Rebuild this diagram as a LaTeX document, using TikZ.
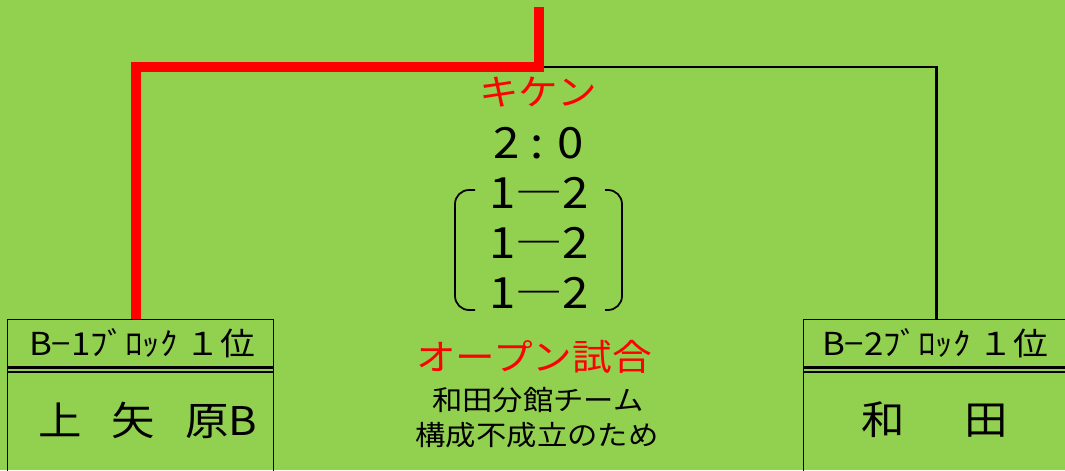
\documentclass[tikz,border=0pt]{standalone}
\usepackage{fontspec}
\setmainfont[FakeStretch=1.1]{Noto Sans CJK JP}
\usetikzlibrary{calc}
\definecolor{xlGreen}{RGB}{146,208,80}
\definecolor{xlRed}{RGB}{255,0,0}
\tikzset{
    box/.style={draw,line width=0.6pt,inner sep=0pt,anchor=north west,minimum width=5.32cm,minimum height=3.06cm},
    dbl/.style={line width=1.7pt},
    win/.style={line width=6.2pt,draw=xlRed},
    wire/.style={line width=1.3pt,draw=black},
    brk/.style={line width=1pt,rounded corners=8pt},
    score/.style={inner sep=0pt,font=\fontsize{24.5}{28}\selectfont},
    flag/.style={inner sep=0pt,text=xlRed,font=\fontsize{20.5}{24}\selectfont},
    note/.style={inner sep=0pt,font=\fontsize{15.7}{18}\selectfont},
    head/.style={inner sep=0pt,font=\fontsize{18}{20}\selectfont},
    team/.style={inner sep=0pt,font=\fontsize{22.5}{26}\selectfont}
}
\begin{document}
\begin{tikzpicture}[x=0.02cm,y=-0.02cm]
  \fill[xlGreen] (0,0) rectangle (1065,470);
  \useasboundingbox (0,0) rectangle (1065,470);

  \node[box] (boxA) at (7,319)   {};
  \node[box] (boxB) at (803,319) {};
  \draw[dbl] ($(boxA.north west)+(0,48.5)$) -- ($(boxA.north east)+(0,48.5)$);
  \draw[dbl] ($(boxA.north west)+(0,53)$)   -- ($(boxA.north east)+(0,53)$);
  \draw[dbl] ($(boxB.north west)+(0,48.5)$) -- ($(boxB.north east)+(0,48.5)$);
  \draw[dbl] ($(boxB.north west)+(0,53)$)   -- ($(boxB.north east)+(0,53)$);

  \node[head] (hdA) at (142,343.5) {B−1ﾌﾞﾛｯｸ １位};
  \node[team] (tmA) at (148,420)   {上\hspace{0.75em}矢\hspace{0.75em}原B};
  \node[head] (hdB) at (935,343.5) {B−2ﾌﾞﾛｯｸ １位};
  \node[team] (tmB) at (935,420)   {和\hspace{1.5em}田};

  \coordinate (top)  at (539,7);
  \coordinate (fork) at (539,67);
  \coordinate (inA)  at (136,319);
  \draw[wire] (fork) -| (boxB.north);
  \draw[win] (inA) |- (fork) -- (top);

  \node[flag]  (kiken) at (538,92)  {キケン};
  \node[score] (s0)    at (539,143) {2 : 0};
  \node[score] (s1)    at (539,193) {1―2};
  \node[score] (s2)    at (539,243) {1―2};
  \node[score] (s3)    at (539,293) {1―2};
  \draw[brk] (475,190) -- (455,190) -- (455,310) -- (475,310);
  \draw[brk] (605,190) -- (622,190) -- (622,310) -- (605,310);

  \node[flag] (open) at (534,357) {オープン試合};
  \node[note] (why1) at (538,400) {和田分館チーム};
  \node[note] (why2) at (537,435) {構成不成立のため};
\end{tikzpicture}
\end{document}
